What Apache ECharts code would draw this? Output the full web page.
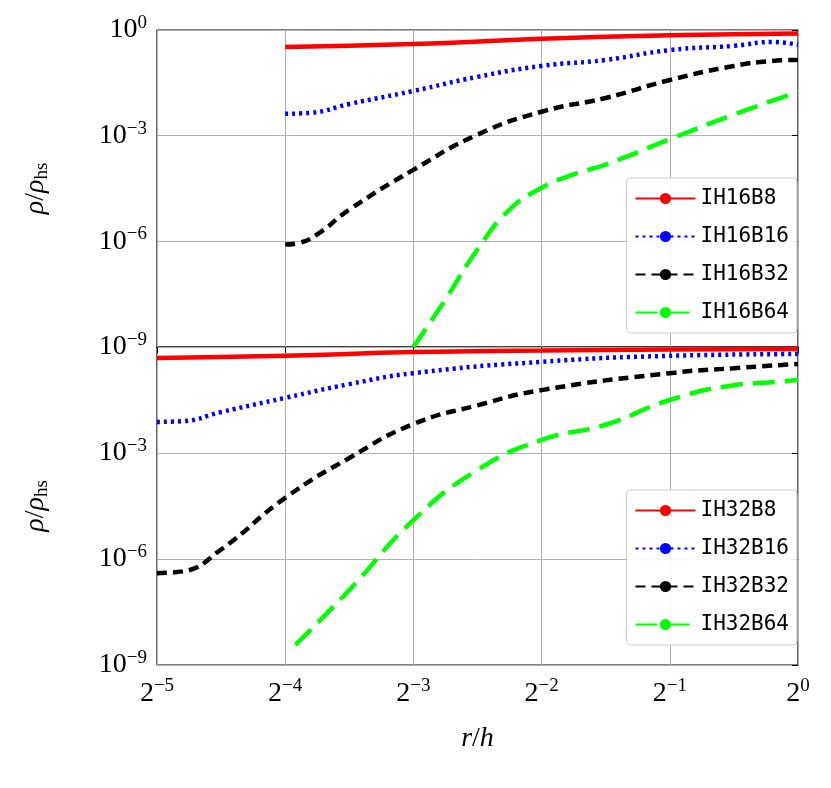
<!DOCTYPE html>
<html><head><meta charset="utf-8">
<script src="https://cdn.jsdelivr.net/npm/echarts@6/dist/echarts.min.js"></script>
<style>html,body{margin:0;padding:0;background:#fff}#c{width:831px;height:788px}</style>
</head><body><div id="c"></div>
<script>
// x = log2(r/h), y = log10(rho/rho_hs)
const xTicks = [-5,-4,-3,-2,-1,0];
const yTicks = [-9,-6,-3,0];
const top_B8  = [[-4,-0.48],[-3,-0.4],[-2,-0.25],[-1,-0.15],[0,-0.1]];
const top_B16 = [[-4,-2.38],[-3.8,-2.35],[-3.5,-2.1],[-3,-1.73],[-2.5,-1.33],[-2,-1.02],[-1.5,-0.85],[-1,-0.57],[-0.5,-0.45],[-0.2,-0.34],[0,-0.42]];
const top_B32 = [[-4,-6.09],[-3.9,-6.05],[-3.75,-5.8],[-3.5,-5.1],[-3,-3.97],[-2.5,-2.97],[-2,-2.32],[-1.5,-1.93],[-1,-1.42],[-0.5,-1.02],[-0.2,-0.88],[0,-0.85]];
const top_B64 = [[-3,-9.0],[-2.75,-7.65],[-2.5,-6.23],[-2.25,-5.1],[-2,-4.48],[-1.75,-4.1],[-1.5,-3.82],[-1,-3.1],[-0.5,-2.4],[0,-1.76]];
const bot_B8  = [[-5,-0.31],[-4,-0.25],[-3,-0.14],[-2,-0.1],[-1,-0.07],[0,-0.06]];
const bot_B16 = [[-5,-2.12],[-4.8,-2.1],[-4.5,-1.84],[-4,-1.44],[-3.5,-1.05],[-3,-0.74],[-2,-0.42],[-1,-0.25],[0,-0.2]];
const bot_B32 = [[-5,-6.4],[-4.8,-6.35],[-4.5,-5.73],[-4,-4.27],[-3.5,-3.14],[-3,-2.18],[-2.5,-1.65],[-2,-1.22],[-1,-0.74],[-0.5,-0.6],[0,-0.48]];
const bot_B64 = [[-3.92,-8.43],[-3.5,-6.88],[-3,-4.9],[-2.5,-3.48],[-2,-2.63],[-1.5,-2.2],[-1,-1.5],[-0.5,-1.08],[-0.2,-1.0],[0,-0.93]];

const serif = 'Liberation Serif';
const sup = {sup:{fontSize:19,verticalAlign:'top',padding:[0,0,14,0],fontFamily:serif,color:'#000'},b:{fontSize:28,fontFamily:serif,color:'#000'}};
function yl(v){return '{b|10}{sup|'+(v===0?'0':'−'+(-v))+'}';}
function xl(v){return '{b|2}{sup|'+(v===0?'0':'−'+(-v))+'}';}
const grids=[{left:157,top:30,width:641,height:317,show:true,borderColor:'#000',borderWidth:1.2},
             {left:157,top:347,width:641,height:318,show:true,borderColor:'#000',borderWidth:1.2}];
const nameRich={i:{fontFamily:serif,fontStyle:'italic',fontSize:28,color:'#000'},n:{fontFamily:serif,fontSize:28,color:'#000'},s:{fontFamily:serif,fontSize:19,color:'#000',verticalAlign:'bottom',padding:[14,0,0,0]}};
function xAxis(i,labels){return {type:'value',gridIndex:i,min:-5,max:0,interval:1,
  axisLine:{show:false},axisTick:{show:labels,inside:false,length:6,lineStyle:{color:'#000'}},
  splitLine:{lineStyle:{color:'#b0b0b0',width:1}},
  axisLabel:{show:labels,formatter:xl,rich:sup,margin:12}};}
function yAxis(i,showMax){return {type:'value',gridIndex:i,min:-9,max:0,interval:3,
  axisLine:{show:false},axisTick:{show:true,length:6,lineStyle:{color:'#000'}},
  splitLine:{lineStyle:{color:'#b0b0b0',width:1}},
  axisLabel:{formatter:yl,rich:sup,margin:10,showMaxLabel:showMax},
  name:'{i|ρ}{n|/}{i|ρ}{s|hs}',nameLocation:'middle',nameGap:105,nameRotate:90,
  nameTextStyle:{rich:nameRich}};}
const styles={
 B8:{color:'#ff0000',width:4.5,type:'solid'},
 B16:{color:'#0000ff',width:4.5,type:[3,4]},
 B32:{color:'#000000',width:4.5,type:[10,6]},
 B64:{color:'#00ff00',width:4.5,type:[22,10]}};
function s(name,data,key,i){return {name:name,type:'line',data:data,xAxisIndex:i,yAxisIndex:i,
  symbol:'none',showSymbol:false,smooth:true,lineStyle:styles[key],itemStyle:{color:styles[key].color},clip:true};}
function legend(names,top){return {data:names,right:34,top:top,orient:'vertical',itemWidth:60,itemHeight:14,itemGap:17,
  backgroundColor:'rgba(255,255,255,0.9)',borderColor:'#ccc',borderWidth:1,borderRadius:4,padding:[10,8,10,8],
  textStyle:{fontFamily:'DejaVu Sans Mono',fontSize:21,color:'#000'}};}
const chart=echarts.init(document.getElementById('c'));
chart.setOption({animation:false,grid:grids,
 xAxis:[xAxis(0,false),Object.assign(xAxis(1,true),{name:'{i|r}{n|/}{i|h}',nameLocation:'middle',nameGap:60,
   nameTextStyle:{rich:nameRich}})],
 yAxis:[yAxis(0,true),yAxis(1,false)],
 legend:[legend(['IH16B8','IH16B16','IH16B32','IH16B64'],178),legend(['IH32B8','IH32B16','IH32B32','IH32B64'],490)],
 series:[s('IH16B8',top_B8,'B8',0),s('IH16B16',top_B16,'B16',0),s('IH16B32',top_B32,'B32',0),s('IH16B64',top_B64,'B64',0),
   s('IH32B8',bot_B8,'B8',1),s('IH32B16',bot_B16,'B16',1),s('IH32B32',bot_B32,'B32',1),s('IH32B64',bot_B64,'B64',1)]});
</script></body></html>
